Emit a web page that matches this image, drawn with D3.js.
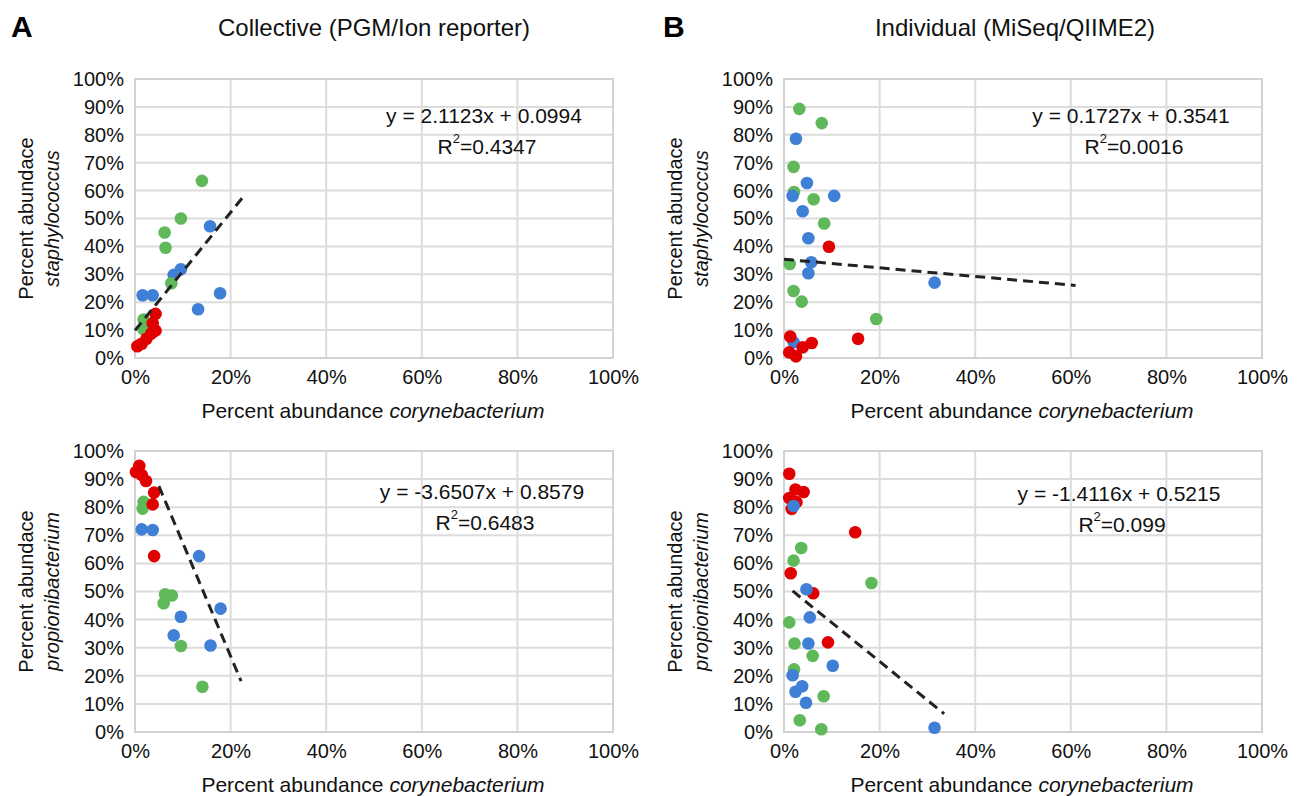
<!DOCTYPE html>
<html><head><meta charset="utf-8">
<script src="https://cdn.jsdelivr.net/npm/d3@7"></script>
<style>
body{margin:0;background:#fff;}
svg{display:block;font-family:"Liberation Sans",Arial,sans-serif;}
</style></head>
<body><svg id="c" width="1300" height="796"></svg>
<script>
// ---- data (percent) ----
const xTicks = [0, 20, 40, 60, 80, 100];
const yTicks = [0, 10, 20, 30, 40, 50, 60, 70, 80, 90, 100];
const seriesColors = {blue: "#3f7fd6", green: "#5fb95a", red: "#e00000"};

// Panel A top: staphylococcus vs corynebacterium (collective)
const aTopGreen = [[14.0,63.5],[9.6,50.0],[6.2,45.0],[6.4,39.5],[7.6,26.8],[1.8,13.8],[1.8,10.2]];
const aTopBlue  = [[15.7,47.2],[9.6,31.8],[8.1,29.8],[1.6,22.5],[3.7,22.5],[17.8,23.2],[13.2,17.5]];
const aTopRed   = [[4.3,15.8],[3.7,12.5],[4.3,9.8],[3.4,8.8],[2.4,6.9],[1.4,5.1],[0.5,4.2]];
const aTopTrend = [[0,9.9],[22.7,57.9]];
const aTopEq = ["y = 2.1123x + 0.0994", "0.4347"];

// Panel A bottom: propionibacterium vs corynebacterium (collective)
const aBotRed   = [[0.9,94.7],[0.2,92.5],[1.4,91.5],[2.3,89.3],[4.0,85.2],[3.7,81.0],[4.0,62.6]];
const aBotGreen = [[1.8,81.9],[1.6,79.5],[6.3,49.0],[7.7,48.6],[6.0,45.8],[9.6,30.6],[14.1,16.1]];
const aBotBlue  = [[1.4,72.1],[3.7,71.9],[13.4,62.6],[17.9,43.9],[9.6,41.0],[8.1,34.4],[15.8,30.8]];
const aBotTrend = [[5.0,87.5],[22.2,18.1]];
const aBotEq = ["y = -3.6507x + 0.8579", "0.6483"];

// Panel B top: staphylococcus vs corynebacterium (individual)
const bTopGreen = [[3.2,89.3],[7.9,84.2],[2.0,68.5],[2.1,59.5],[6.2,56.9],[8.4,48.2],[1.2,33.7],[2.0,24.0],[3.7,20.2],[19.3,14.0]];
const bTopBlue  = [[2.5,78.6],[4.8,62.7],[1.8,58.1],[10.5,58.1],[3.9,52.6],[5.1,42.9],[5.7,34.3],[5.1,30.4],[2.0,5.7],[31.5,27.0]];
const bTopRed   = [[9.4,39.9],[15.5,6.9],[1.3,7.7],[5.8,5.4],[3.9,3.8],[1.1,2.0],[2.5,0.6]];
const bTopTrend = [[0,35.4],[61,26.0]];
const bTopEq = ["y = 0.1727x + 0.3541", "0.0016"];

// Panel B bottom: propionibacterium vs corynebacterium (individual)
const bBotRed   = [[1.1,91.9],[2.4,86.3],[4.1,85.4],[1.1,83.3],[2.6,81.8],[1.6,79.4],[14.9,71.1],[1.4,56.5],[6.1,49.4],[9.2,31.9]];
const bBotBlue  = [[2.0,80.4],[4.7,50.8],[5.4,40.8],[5.1,31.5],[10.2,23.6],[1.8,20.2],[3.8,16.3],[2.4,14.3],[4.6,10.4],[31.5,1.5]];
const bBotGreen = [[3.6,65.5],[2.0,61.0],[18.3,53.0],[1.1,39.0],[2.2,31.5],[6.0,27.1],[2.1,22.3],[8.3,12.7],[3.3,4.2],[7.8,1.0]];
const bBotTrend = [[1.8,50.2],[33.5,6.5]];
const bBotEq = ["y = -1.4116x + 0.5215", "0.099"];

const panelTitles = ["Collective (PGM/Ion reporter)", "Individual (MiSeq/QIIME2)"];
const panelLetters = ["A", "B"];
const xTitle = ["Percent abundance ", "corynebacterium"];
const yTitles = [["Percent abundace", "staphylococcus"], ["Percent abundace", "propionibacterium"]];

// ---- drawing ----
const svg = d3.select("#c");
const FONT = 20;

const panels = [
  {l:135, r:613, t:79, b:358, series:[[aTopBlue,"blue"],[aTopGreen,"green"],[aTopRed,"red"]], trend:aTopTrend, eq:aTopEq, eqX:484, eqY:115, yt:yTitles[0]},
  {l:135, r:613, t:451, b:732, series:[[aBotBlue,"blue"],[aBotGreen,"green"],[aBotRed,"red"]], trend:aBotTrend, eq:aBotEq, eqX:482, eqY:491, yt:yTitles[1]},
  {l:784, r:1262, t:79, b:358, series:[[bTopGreen,"green"],[bTopBlue,"blue"],[bTopRed,"red"]], trend:bTopTrend, eq:bTopEq, eqX:1131, eqY:115, yt:yTitles[0]},
  {l:784, r:1262, t:451, b:732, series:[[bBotGreen,"green"],[bBotRed,"red"],[bBotBlue,"blue"]], trend:bBotTrend, eq:bBotEq, eqX:1119, eqY:493, yt:yTitles[1]}
];

panels.forEach(p => {
  const x = d3.scaleLinear().domain([0,100]).range([p.l, p.r]);
  const y = d3.scaleLinear().domain([0,100]).range([p.b, p.t]);
  const g = svg.append("g");

  // gridlines
  g.selectAll(".hg").data(yTicks).join("line")
    .attr("x1", p.l).attr("x2", p.r).attr("y1", d => y(d)).attr("y2", d => y(d))
    .attr("stroke", "#dcdcdc").attr("stroke-width", 2);
  g.selectAll(".vg").data(xTicks).join("line")
    .attr("y1", p.t).attr("y2", p.b).attr("x1", d => x(d)).attr("x2", d => x(d))
    .attr("stroke", "#dcdcdc").attr("stroke-width", 2);
  // border
  g.append("rect").attr("x", p.l).attr("y", p.t).attr("width", p.r - p.l).attr("height", p.b - p.t)
    .attr("fill", "none").attr("stroke", "#d2d2d2").attr("stroke-width", 2);

  // axes via d3
  const ya = d3.axisLeft(y).tickValues(yTicks).tickFormat(d => d + "%").tickSize(0).tickPadding(11);
  const yg = g.append("g").attr("transform", `translate(${p.l},0)`).call(ya);
  const xa = d3.axisBottom(x).tickValues(xTicks).tickFormat(d => d + "%").tickSize(0).tickPadding(12);
  const xg = g.append("g").attr("transform", `translate(0,${p.b})`).call(xa);
  [yg, xg].forEach(a => {
    a.select(".domain").remove();
    a.selectAll("text").attr("font-size", FONT).attr("fill", "#111")
      .attr("font-family", '"Liberation Sans",Arial,sans-serif');
  });

  // points
  p.series.forEach(([data, col]) => {
    g.selectAll(null).data(data).join("circle")
      .attr("cx", d => x(d[0])).attr("cy", d => y(d[1])).attr("r", 6.3)
      .attr("fill", seriesColors[col]);
  });

  // trend line
  g.append("path").datum(p.trend)
    .attr("d", d3.line().x(d => x(d[0])).y(d => y(d[1])))
    .attr("stroke", "#222").attr("stroke-width", 3).attr("stroke-dasharray", "10,6")
    .attr("fill", "none");

  // equation
  g.append("text").attr("x", p.eqX).attr("y", p.eqY).attr("text-anchor", "middle")
    .attr("dominant-baseline", "central").attr("font-size", 21).attr("fill", "#111")
    .text(p.eq[0]);
  const r2 = g.append("text").attr("x", p.eqX + 3).attr("y", p.eqY + 31).attr("text-anchor", "middle")
    .attr("dominant-baseline", "central").attr("font-size", 21).attr("fill", "#111");
  r2.append("tspan").text("R");
  r2.append("tspan").attr("font-size", 13).attr("dy", -8).text("2");
  r2.append("tspan").attr("dy", 8).text("=" + p.eq[1]);

  // x title
  const xt = g.append("text").attr("x", (p.l + p.r) / 2 - 1).attr("y", p.b + 52)
    .attr("text-anchor", "middle").attr("dominant-baseline", "central")
    .attr("font-size", 21).attr("fill", "#111");
  xt.append("tspan").text(xTitle[0]);
  xt.append("tspan").attr("font-style", "italic").text(xTitle[1]);

  // y title (two lines, rotated)
  const cy = (p.t + p.b) / 2;
  const ytg = g.append("g").attr("transform", `translate(${p.l - 109},${cy}) rotate(-90)`);
  ytg.append("text").attr("x", 0).attr("y", 0).attr("text-anchor", "middle")
    .attr("dominant-baseline", "central").attr("font-size", FONT).attr("fill", "#111").text(p.yt[0]);
  ytg.append("text").attr("x", 0).attr("y", 26).attr("text-anchor", "middle")
    .attr("dominant-baseline", "central").attr("font-size", FONT).attr("font-style", "italic")
    .attr("fill", "#111").text(p.yt[1]);
});

// panel letters & titles
svg.selectAll(".letter").data(panelLetters).join("text")
  .attr("x", (d, i) => i === 0 ? 11 : 663).attr("y", 26)
  .attr("dominant-baseline", "central").attr("font-size", 30).attr("font-weight", "bold")
  .attr("fill", "#000").text(d => d);
svg.selectAll(".ptitle").data(panelTitles).join("text")
  .attr("x", (d, i) => i === 0 ? 374 : 1015).attr("y", 27)
  .attr("text-anchor", "middle").attr("dominant-baseline", "central")
  .attr("font-size", 24).attr("fill", "#111").text(d => d);
</script></body></html>
